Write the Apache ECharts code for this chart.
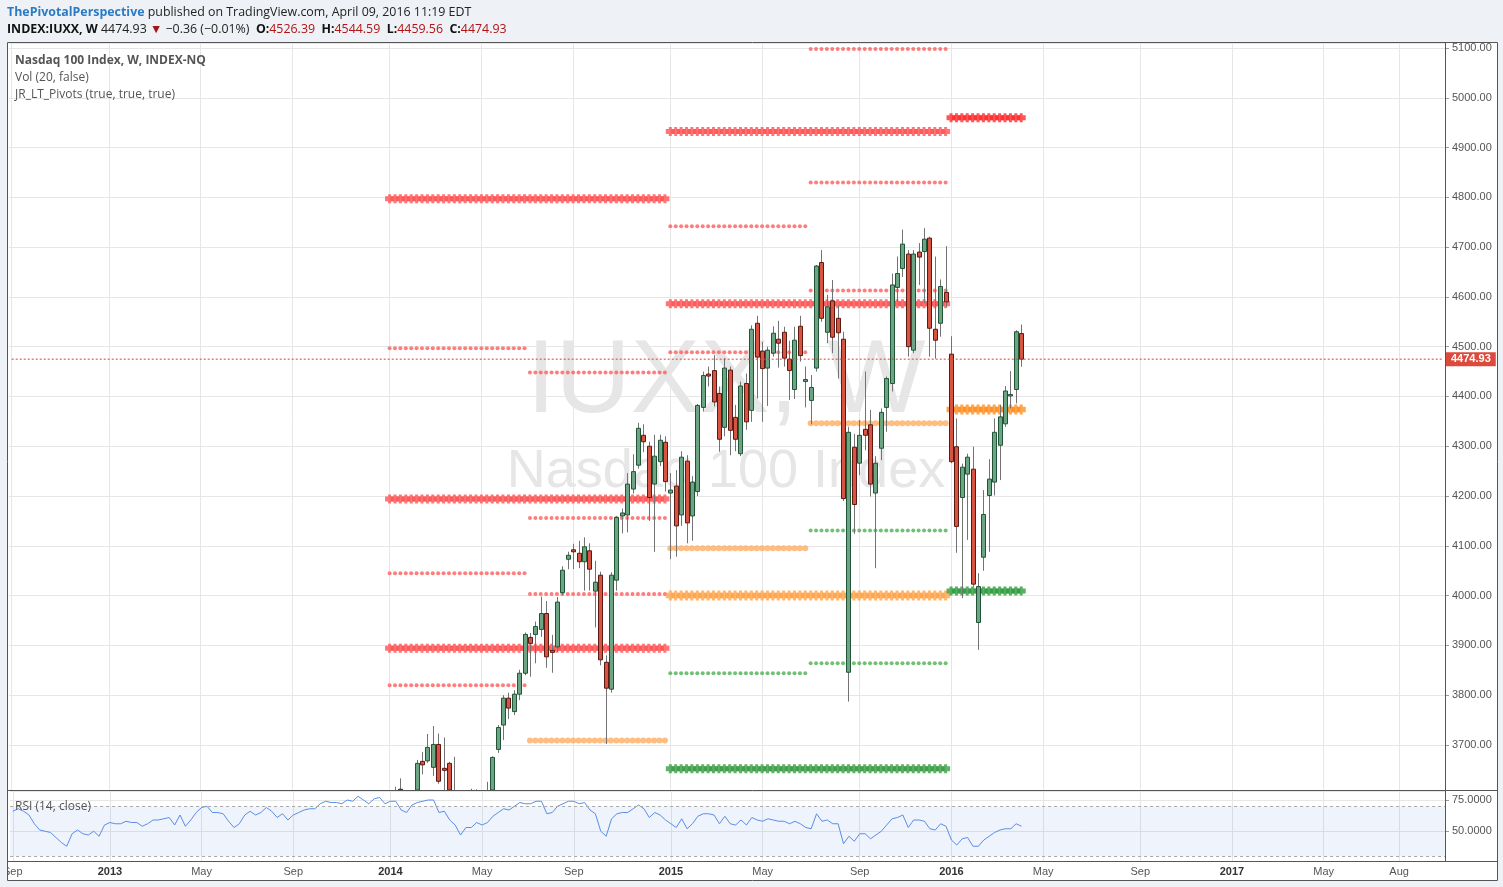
<!DOCTYPE html>
<html><head><meta charset="utf-8">
<script src="https://cdn.jsdelivr.net/npm/echarts@6/dist/echarts.min.js"></script>
<style>html,body{margin:0;padding:0;background:#eef1f6;}#c{width:1503px;height:887px;}</style>
</head><body><div id="c"></div><script>
// ---------- axis / categories ----------
const firstWeek = '2012-09-03';
const weekCount = 266;
const tickLabels = [
  ['2012-09-03','Sep'],['2013-01-07','2013'],['2013-05-06','May'],['2013-09-02','Sep'],
  ['2014-01-06','2014'],['2014-05-05','May'],['2014-09-01','Sep'],['2015-01-05','2015'],
  ['2015-05-04','May'],['2015-09-07','Sep'],['2016-01-04','2016'],['2016-05-02','May'],
  ['2016-09-05','Sep'],['2017-01-02','2017'],['2017-05-01','May'],['2017-08-07','Aug']
];
// ---------- weekly candles (from 2014-01-06) ----------
const candleStart = '2014-01-06';
const opens = [3560,3580,3611,3505,3520,3580,3667,3668,3655,3701,3652,3663,3580,3500,3430,3530,3527,3570,3535,3590,
3691,3740,3794,3767,3802,3844,3916,3922,3932,3964,3890,3897,4006,4073,4092,4085,4068,4090,4009,4041,
3866,3812,4031,4160,4162,4214,4262,4322,4300,4224,4269,4308,4206,4220,4162,4270,4160,4209,4378,4445,
4452,4406,4338,4453,4358,4285,4426,4372,4547,4491,4457,4487,4515,4529,4475,4414,4541,4431,4392,4457,
4669,4529,4592,4557,4515,3846,4298,4266,4334,4343,4206,4296,4378,4426,4619,4657,4686,4493,4690,4691,
4718,4535,4547,4609,4485,4299,4197,4244,4254,3946,4077,4201,4228,4302,4345,4401,4414,4526.39];
const highs = [3600,3616,3633,3560,3580,3670,3686,3722,3738,3723,3715,3666,3676,3560,3540,3612,3611,3590,3626,3677,
3740,3800,3805,3810,3851,3926,3925,3948,3998,3989,3921,3997,4059,4088,4104,4110,4117,4105,4070,4048,
3880,4047,4160,4175,4246,4284,4347,4344,4309,4323,4323,4320,4246,4252,4290,4282,4240,4385,4450,4460,
4483,4420,4477,4460,4383,4430,4446,4543,4562,4510,4500,4541,4552,4540,4512,4540,4562,4460,4443,4664,
4694,4604,4634,4584,4530,4339,4325,4353,4450,4373,4280,4376,4440,4647,4681,4735,4694,4694,4708,4738,
4721,4681,4635,4702,4521,4356,4265,4285,4299,4045,4212,4274,4356,4383,4421,4451,4533,4544.59];
const lows = [3540,3540,3500,3440,3420,3575,3641,3664,3638,3622,3590,3540,3500,3400,3400,3500,3490,3490,3520,3580,
3684,3710,3752,3760,3790,3840,3837,3864,3917,3855,3845,3887,4001,4053,4053,4055,4010,4010,3936,3860,
3702,3805,4010,4125,4127,4205,4255,4288,4150,4088,4260,4209,4073,4078,4140,4105,4110,4200,4370,4420,
4380,4289,4320,4282,4290,4280,4333,4349,4396,4349,4381,4480,4458,4460,4393,4395,4470,4378,4344,4450,
4550,4507,4487,4436,4190,3787,4124,4242,4292,4199,4055,4272,4329,4410,4590,4640,4480,4487,4624,4587,
4480,4476,4520,4580,4266,4086,3995,4112,4018,3891,4050,4088,4201,4232,4339,4376,4386,4459.56];
const closes = [3586,3600,3511,3520,3577,3663,3660,3695,3701,3627,3650,3560,3520,3420,3530,3527,3575,3531,3592,3675,
3735,3794,3774,3802,3844,3922,3904,3938,3964,3877,3886,3987,4051,4081,4088,4068,4098,4053,4027,3871,
3814,4041,4157,4166,4224,4249,4336,4309,4197,4280,4312,4229,4212,4140,4278,4146,4228,4382,4442,4441,
4389,4314,4457,4332,4314,4421,4349,4535,4479,4456,4493,4527,4507,4477,4452,4513,4482,4433,4418,4662,
4557,4580,4519,4528,4195,4328,4183,4322,4322,4224,4266,4368,4436,4624,4647,4706,4500,4686,4680,4716,
4537,4513,4621,4590,4269,4139,4258,4278,4023,4018,4163,4234,4328,4359,4411,4404,4530,4474.93];
const lastPrice = 4474.93;
// ---------- RSI(14) weekly values from 2012-09-03 ----------
const rsiStart = '2012-09-03';
const rsi = [66,68,66,63,56,51,50,49,45,41, 38,48,51,48,47,50,46,55,57,56, 56,58,57,57,54,56,59,59,60,61,
55,63,54,59,65,69,70,65,65,64, 58,53,56,63,66,63,65,69,66,61, 64,59,63,65,67,68,68,72,74,73,
73,72,75,74,78,75,72,76,77,72, 74,74,67,65,71,73,74,75,75,65, 66,59,55,47,53,53,57,55,57,62,
65,68,67,70,73,72,72,74,74,64, 65,70,72,74,74,72,73,67,64,50, 46,60,64,65,65,68,71,68,61,65,
63,59,56,53,60,52,56,62,64,64, 63,56,62,56,55,59,55,61,59,58, 60,59,58,58,56,58,56,53,52,64,
58,59,56,56,40,46,42,48,48,44, 47,50,55,60,61,63,53,59,59,58, 52,51,56,54,43,39,44,45,38,38,
43,46,49,51,52,52,56,54];
// ---------- pivot levels: [first week, last week, level] ----------
const yearlyRes = [['2014-01-06','2014-12-29',4797],['2014-01-06','2014-12-29',4194],['2014-01-06','2014-12-29',3894],
                   ['2015-01-05','2015-12-28',4932],['2015-01-05','2015-12-28',4586]];
const yearlyPivot = [['2015-01-05','2015-12-28',4000]];
const yearlySup = [['2015-01-05','2015-12-28',3652]];
const yearlyRes16 = [['2016-01-04','2016-04-04',4960]];
const yearlyPivot16 = [['2016-01-04','2016-04-04',4374]];
const yearlySup16 = [['2016-01-04','2016-04-04',4009]];
const halfRes = [['2014-01-06','2014-06-30',4497],['2014-01-06','2014-06-30',4045],['2014-01-06','2014-06-30',3820],
                 ['2014-07-07','2014-12-29',4448],['2014-07-07','2014-12-29',4156],['2014-07-07','2014-12-29',4003],
                 ['2015-01-05','2015-06-29',4742],['2015-01-05','2015-06-29',4489],
                 ['2015-07-06','2015-12-28',5098],['2015-07-06','2015-12-28',4830],['2015-07-06','2015-12-28',4613]];
const halfPivot = [['2014-07-07','2014-12-29',3709],['2015-01-05','2015-06-29',4095],['2015-07-06','2015-12-28',4346]];
const halfSup = [['2015-01-05','2015-06-29',3844],['2015-07-06','2015-12-28',4131],['2015-07-06','2015-12-28',3864]];

// ---------- build ----------
function addWeeks(s, n){const [y,m,d]=s.split('-').map(Number);return new Date(Date.UTC(y,m-1,d+7*n)).toISOString().slice(0,10);}
const cats = Array.from({length:weekCount},(_,i)=>addWeeks(firstWeek,i));
const catIndex = s => cats.indexOf(s);
const tickMap = new Map(tickLabels);
const AX = '"Liberation Sans", Arial, sans-serif';
const UI = '"Open Sans", "Noto Sans", sans-serif';

const c0 = catIndex(candleStart);
const candleData = opens.map((o,i)=>[c0+i, o, closes[i], lows[i], highs[i]]);

function renderCandle(params, api){
  const cs = params.coordSys;
  const top = cs.y, bot = cs.y + cs.height;
  const x = api.value(0), o = api.value(1), c = api.value(2), l = api.value(3), h = api.value(4);
  const px = Math.round(api.coord([x, o])[0]);
  const yo = api.coord([x,o])[1], yc = api.coord([x,c])[1], yl = api.coord([x,l])[1], yh = api.coord([x,h])[1];
  const cl = v => Math.max(top, Math.min(bot, v));
  const up = c >= o;
  const ch = [];
  const w1 = cl(yh), w2 = cl(yl);
  if (w2 > w1) ch.push({type:'line', shape:{x1:px+0.5,y1:w1,x2:px+0.5,y2:w2}, style:{stroke:'#737375', lineWidth:1}});
  let b1 = Math.min(yo,yc), b2 = Math.max(yo,yc);
  if (b2 - b1 < 1) { b1 -= 0.5; b2 += 0.5; }
  if (b1 < bot && b2 > top) {
    b1 = cl(b1); b2 = cl(b2);
    ch.push({type:'rect', shape:{x:px-1.5, y:b1, width:4, height:b2-b1},
      style:{fill: up ? '#6ba583' : '#d75442', stroke: up ? '#225437' : '#5b1a13', lineWidth:1}});
  }
  return {type:'group', children:ch};
}

const series = [];
const plus = 'path://M0,4H6V0H12V4H18V14H12V18H6V14H0Z';
function addSegs(segs, opts){
  segs.forEach(([a,b,lvl])=>{
    const i0 = catIndex(a), i1 = catIndex(b), data = [];
    for (let i=i0;i<=i1;i++) data.push([i,lvl]);
    series.push(Object.assign({type:'scatter', xAxisIndex:0, yAxisIndex:0, silent:true, animation:false, data}, opts));
  });
}
addSegs(halfPivot, {symbol:'circle', symbolSize:6, itemStyle:{color:'#ffad60'}, z:2});
addSegs(halfRes, {symbol:'circle', symbolSize:4, itemStyle:{color:'#ff5c5c'}, z:2});
addSegs(halfSup, {symbol:'circle', symbolSize:4, itemStyle:{color:'#4fb052'}, z:2});
addSegs(yearlyRes, {symbol:plus, symbolSize:[9,9], itemStyle:{color:'#ff5252'}, z:2});
addSegs(yearlyPivot, {symbol:plus, symbolSize:[9,10], itemStyle:{color:'#ffa449'}, z:2});
addSegs(yearlySup, {symbol:plus, symbolSize:[9,9], itemStyle:{color:'#3a9c44'}, z:2});
addSegs(yearlyRes16, {symbol:plus, symbolSize:[9,9], itemStyle:{color:'#ff2a2a'}, z:2});
addSegs(yearlyPivot16, {symbol:plus, symbolSize:[9,10], itemStyle:{color:'#ff8f22'}, z:2});
addSegs(yearlySup16, {symbol:plus, symbolSize:[9,9], itemStyle:{color:'#2e9b3c'}, z:2});

series.push({type:'custom', xAxisIndex:0, yAxisIndex:0, z:3, silent:true, animation:false,
  renderItem: renderCandle, data: candleData, encode:{x:0, y:[1,2,3,4]}});

// last-price line (full width) and its label on the price scale
series.push({type:'line', xAxisIndex:0, yAxisIndex:0, silent:true, animation:false, z:4, symbol:'none',
  data:[[0, lastPrice],[weekCount-1, lastPrice]],
  lineStyle:{color:'#e8392c', width:1, type:[2,2]},
  markLine:{silent:true, symbol:'none', animation:false,
    lineStyle:{color:'rgba(0,0,0,0)', width:1},
    label:{show:true, position:'end', formatter: lastPrice.toFixed(2), backgroundColor:'#dc4a3d', color:'#ffffff',
      fontWeight:'bold', fontSize:11, fontFamily:AX, padding:[2,5,1,5], distance:1, opacity:1},
    data:[{yAxis:lastPrice}]}});

const r0 = catIndex(rsiStart);
series.push({type:'line', xAxisIndex:1, yAxisIndex:1, silent:true, animation:false, z:3,
  data: rsi.map((v,i)=>[r0+i, v]), symbol:'none', lineStyle:{color:'#5b8ee6', width:1},
  markArea:{silent:true, itemStyle:{color:'rgba(85,135,225,0.1)'}, data:[[{yAxis:30},{yAxis:70}]]},
  markLine:{silent:true, symbol:'none', label:{show:false}, animation:false,
    lineStyle:{color:'#a9a9a9', type:[3,3], width:1}, data:[{yAxis:70},{yAxis:30}]}});

const tickFn = (i, v) => tickMap.has(v);
const xBase = {type:'category', data:cats, boundaryGap:true,
  axisLine:{show:false}, axisTick:{show:false},
  splitLine:{show:true, interval:tickFn, alignWithLabel:true, lineStyle:{color:'#e6e6e6', width:1}}};

const option = {
  backgroundColor:'transparent',
  animation:false,
  grid:[
    {left:9, top:43, width:1436, height:747},
    {left:9, top:791, width:1436, height:70}
  ],
  xAxis:[
    Object.assign({}, xBase, {gridIndex:0, axisLabel:{show:false}}),
    Object.assign({}, xBase, {gridIndex:1, axisLabel:{show:true, interval:tickFn, margin:5,
      formatter: v => { const l = tickMap.get(v); return /^\d{4}$/.test(l) ? '{y|'+l+'}' : '{m|'+l+'}'; },
      rich:{y:{fontWeight:'bold', color:'#333', fontSize:11, fontFamily:AX}, m:{color:'#555', fontSize:11, fontFamily:AX}}}})
  ],
  yAxis:[
    {gridIndex:0, type:'value', position:'right', min:3609.5, max:5110, splitNumber:15, minInterval:100, maxInterval:100,
      axisLine:{show:false}, axisTick:{show:true, length:4, lineStyle:{color:'#9a9a9a'}},
      axisLabel:{showMinLabel:false, showMaxLabel:false, formatter:v=>v.toFixed(2), color:'#555', fontSize:11, fontFamily:AX, margin:7},
      splitLine:{lineStyle:{color:'#e6e6e6'}}},
    {gridIndex:1, type:'value', position:'right', min:26.2, max:82.2, splitNumber:2, minInterval:25, maxInterval:25,
      axisLine:{show:false}, axisTick:{show:true, length:4, lineStyle:{color:'#9a9a9a'}},
      axisLabel:{showMinLabel:false, showMaxLabel:false, formatter:v=>v.toFixed(4), color:'#555', fontSize:11, fontFamily:AX, margin:7},
      splitLine:{lineStyle:{color:'#e6e6e6'}}}
  ],
  graphic:[
    {type:'rect', z:-10, silent:true, shape:{x:7,y:42,width:1491,height:839}, style:{fill:'#ffffff'}},
    {type:'text', z:-5, silent:true, style:{text:'IUXX, W', x:726, y:383, font:'104px '+AX, fill:'#e6e6e6', align:'center', verticalAlign:'middle', textAlign:'center', textVerticalAlign:'middle'}},
    {type:'text', z:-5, silent:true, style:{text:'Nasdaq 100 Index', x:726, y:472, font:'54px '+AX, fill:'#e6e6e6', align:'center', verticalAlign:'middle', textAlign:'center', textVerticalAlign:'middle'}},
    // frame
    {type:'rect', z:100, silent:true, shape:{x:0,y:43,width:7,height:845}, style:{fill:'#eef1f6'}},
    {type:'rect', z:101, silent:true, shape:{x:7.5,y:42.5,width:1490,height:838}, style:{fill:null, stroke:'#555', lineWidth:1}},
    {type:'line', z:101, silent:true, shape:{x1:1445.5,y1:43,x2:1445.5,y2:861}, style:{stroke:'#555', lineWidth:1}},
    {type:'line', z:101, silent:true, shape:{x1:7.5,y1:790.5,x2:1497.5,y2:790.5}, style:{stroke:'#555', lineWidth:1}},
    {type:'line', z:101, silent:true, shape:{x1:7.5,y1:861.5,x2:1497.5,y2:861.5}, style:{stroke:'#555', lineWidth:1}},
    // header
    {type:'text', z:102, silent:true, style:{x:7, y:12, verticalAlign:'middle', textVerticalAlign:'middle',
      text:'{a|ThePivotalPerspective}{n| published on TradingView.com, April 09, 2016 11:19 EDT}',
      rich:{a:{font:'bold 12.4px '+UI, fill:'#2b7bc4'}, n:{font:'12.4px '+UI, fill:'#222'}}}},
    {type:'text', z:102, silent:true, style:{x:7, y:29, verticalAlign:'middle', textVerticalAlign:'middle',
      text:'{b|INDEX:IUXX, W}{n| 4474.93 }{r|▼}{n| −0.36 (−0.01%)  }{b|O:}{v|4526.39}{b|  H:}{v|4544.59}{b|  L:}{v|4459.56}{b|  C:}{v|4474.93}',
      rich:{b:{font:'bold 12.4px '+UI, fill:'#111'}, n:{font:'12.4px '+UI, fill:'#222'}, r:{font:'12.4px '+UI, fill:'#a31616'}, v:{font:'12.4px '+UI, fill:'#b01414'}}}},
    // pane legend
    {type:'text', z:102, silent:true, style:{x:15, y:61, text:'Nasdaq 100 Index, W, INDEX-NQ', font:'bold 12px '+UI, fill:'#555', verticalAlign:'middle', textVerticalAlign:'middle'}},
    {type:'text', z:102, silent:true, style:{x:15, y:78, text:'Vol (20, false)', font:'12px '+UI, fill:'#555', verticalAlign:'middle', textVerticalAlign:'middle'}},
    {type:'text', z:102, silent:true, style:{x:15, y:95, text:'JR_LT_Pivots (true, true, true)', font:'12px '+UI, fill:'#555', verticalAlign:'middle', textVerticalAlign:'middle'}},
    {type:'text', z:102, silent:true, style:{x:15, y:807, text:'RSI (14, close)', font:'12px '+UI, fill:'#555', verticalAlign:'middle', textVerticalAlign:'middle'}}
  ],
  series
};
const chart = echarts.init(document.getElementById('c'), null, {width:1503, height:887});
chart.setOption(option);
</script></body></html>
